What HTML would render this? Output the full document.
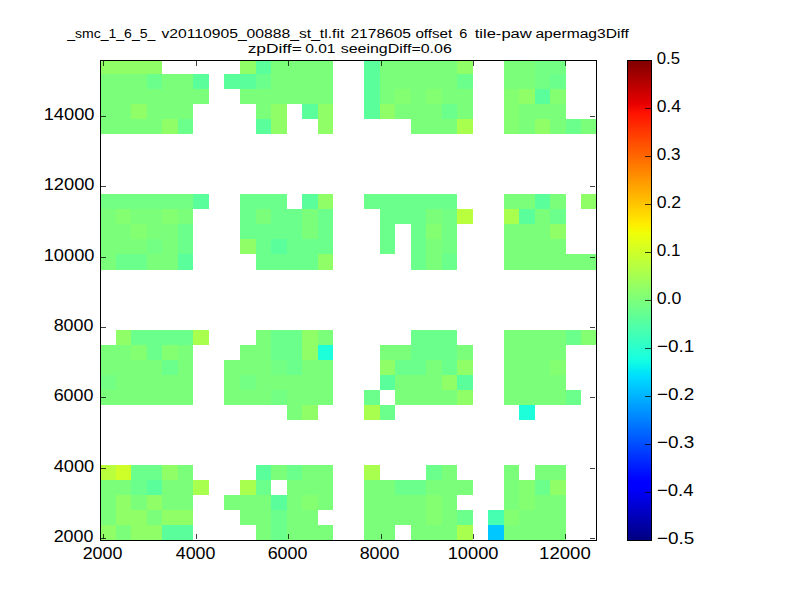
<!DOCTYPE html>
<html><head><meta charset="utf-8"><style>
html,body{margin:0;padding:0;background:#fff;}
body{width:800px;height:600px;overflow:hidden;}
svg{display:block;}
</style></head><body>
<svg width="800" height="600" viewBox="0 0 800 600">
<defs><linearGradient id="jet" x1="0" y1="0" x2="0" y2="1"><stop offset="0.00" stop-color="#800000"/><stop offset="0.01" stop-color="#8b0000"/><stop offset="0.02" stop-color="#970000"/><stop offset="0.03" stop-color="#a20000"/><stop offset="0.04" stop-color="#ae0000"/><stop offset="0.05" stop-color="#b90000"/><stop offset="0.06" stop-color="#c50000"/><stop offset="0.07" stop-color="#d10000"/><stop offset="0.08" stop-color="#dc0000"/><stop offset="0.09" stop-color="#e80000"/><stop offset="0.10" stop-color="#f30900"/><stop offset="0.11" stop-color="#ff1300"/><stop offset="0.12" stop-color="#ff1c00"/><stop offset="0.13" stop-color="#ff2600"/><stop offset="0.14" stop-color="#ff2f00"/><stop offset="0.15" stop-color="#ff3900"/><stop offset="0.16" stop-color="#ff4200"/><stop offset="0.17" stop-color="#ff4c00"/><stop offset="0.18" stop-color="#ff5500"/><stop offset="0.19" stop-color="#ff5e00"/><stop offset="0.20" stop-color="#ff6800"/><stop offset="0.21" stop-color="#ff7100"/><stop offset="0.22" stop-color="#ff7b00"/><stop offset="0.23" stop-color="#ff8400"/><stop offset="0.24" stop-color="#ff8e00"/><stop offset="0.25" stop-color="#ff9700"/><stop offset="0.26" stop-color="#ffa100"/><stop offset="0.27" stop-color="#ffaa00"/><stop offset="0.28" stop-color="#ffb300"/><stop offset="0.29" stop-color="#ffbd00"/><stop offset="0.30" stop-color="#ffc600"/><stop offset="0.31" stop-color="#ffd000"/><stop offset="0.32" stop-color="#ffd900"/><stop offset="0.33" stop-color="#ffe300"/><stop offset="0.34" stop-color="#ffec00"/><stop offset="0.35" stop-color="#f7f600"/><stop offset="0.36" stop-color="#efff08"/><stop offset="0.37" stop-color="#e6ff10"/><stop offset="0.38" stop-color="#deff19"/><stop offset="0.39" stop-color="#d6ff21"/><stop offset="0.40" stop-color="#ceff29"/><stop offset="0.41" stop-color="#c5ff31"/><stop offset="0.42" stop-color="#bdff3a"/><stop offset="0.43" stop-color="#b5ff42"/><stop offset="0.44" stop-color="#adff4a"/><stop offset="0.45" stop-color="#a5ff52"/><stop offset="0.46" stop-color="#9cff5a"/><stop offset="0.47" stop-color="#94ff63"/><stop offset="0.48" stop-color="#8cff6b"/><stop offset="0.49" stop-color="#84ff73"/><stop offset="0.50" stop-color="#7bff7b"/><stop offset="0.51" stop-color="#73ff84"/><stop offset="0.52" stop-color="#6bff8c"/><stop offset="0.53" stop-color="#63ff94"/><stop offset="0.54" stop-color="#5aff9c"/><stop offset="0.55" stop-color="#52ffa5"/><stop offset="0.56" stop-color="#4affad"/><stop offset="0.57" stop-color="#42ffb5"/><stop offset="0.58" stop-color="#3affbd"/><stop offset="0.59" stop-color="#31ffc5"/><stop offset="0.60" stop-color="#29ffce"/><stop offset="0.61" stop-color="#21ffd6"/><stop offset="0.62" stop-color="#19ffde"/><stop offset="0.63" stop-color="#10fae6"/><stop offset="0.64" stop-color="#08f0ef"/><stop offset="0.65" stop-color="#00e5f7"/><stop offset="0.66" stop-color="#00dbff"/><stop offset="0.67" stop-color="#00d1ff"/><stop offset="0.68" stop-color="#00c7ff"/><stop offset="0.69" stop-color="#00bdff"/><stop offset="0.70" stop-color="#00b3ff"/><stop offset="0.71" stop-color="#00a8ff"/><stop offset="0.72" stop-color="#009eff"/><stop offset="0.73" stop-color="#0094ff"/><stop offset="0.74" stop-color="#008aff"/><stop offset="0.75" stop-color="#0080ff"/><stop offset="0.76" stop-color="#0075ff"/><stop offset="0.77" stop-color="#006bff"/><stop offset="0.78" stop-color="#0061ff"/><stop offset="0.79" stop-color="#0057ff"/><stop offset="0.80" stop-color="#004cff"/><stop offset="0.81" stop-color="#0042ff"/><stop offset="0.82" stop-color="#0038ff"/><stop offset="0.83" stop-color="#002eff"/><stop offset="0.84" stop-color="#0024ff"/><stop offset="0.85" stop-color="#001aff"/><stop offset="0.86" stop-color="#000fff"/><stop offset="0.87" stop-color="#0005ff"/><stop offset="0.88" stop-color="#0000ff"/><stop offset="0.89" stop-color="#0000ff"/><stop offset="0.90" stop-color="#0000f3"/><stop offset="0.91" stop-color="#0000e8"/><stop offset="0.92" stop-color="#0000dc"/><stop offset="0.93" stop-color="#0000d1"/><stop offset="0.94" stop-color="#0000c5"/><stop offset="0.95" stop-color="#0000b9"/><stop offset="0.96" stop-color="#0000ae"/><stop offset="0.97" stop-color="#0000a2"/><stop offset="0.98" stop-color="#000097"/><stop offset="0.99" stop-color="#00008b"/><stop offset="1.00" stop-color="#000080"/></linearGradient></defs>
<rect x="0" y="0" width="800" height="600" fill="#fff"/>
<g shape-rendering="crispEdges"><rect x="100" y="60" width="16" height="14" fill="#90ff67"/><rect x="116" y="60" width="15" height="14" fill="#90ff67"/><rect x="131" y="60" width="16" height="14" fill="#90ff67"/><rect x="147" y="60" width="15" height="14" fill="#90ff67"/><rect x="240" y="60" width="16" height="14" fill="#90ff67"/><rect x="256" y="60" width="15" height="14" fill="#5aff9c"/><rect x="271" y="60" width="16" height="14" fill="#7bff7b"/><rect x="287" y="60" width="15" height="14" fill="#7bff7b"/><rect x="302" y="60" width="16" height="14" fill="#7bff7b"/><rect x="318" y="60" width="15" height="14" fill="#7bff7b"/><rect x="364" y="60" width="16" height="14" fill="#5aff9c"/><rect x="380" y="60" width="15" height="14" fill="#7bff7b"/><rect x="395" y="60" width="16" height="14" fill="#7bff7b"/><rect x="411" y="60" width="15" height="14" fill="#7bff7b"/><rect x="426" y="60" width="16" height="14" fill="#7bff7b"/><rect x="442" y="60" width="15" height="14" fill="#7bff7b"/><rect x="457" y="60" width="16" height="14" fill="#90ff67"/><rect x="504" y="60" width="15" height="14" fill="#7bff7b"/><rect x="519" y="60" width="16" height="14" fill="#7bff7b"/><rect x="535" y="60" width="15" height="14" fill="#73ff84"/><rect x="550" y="60" width="16" height="14" fill="#73ff84"/><rect x="100" y="74" width="16" height="15" fill="#7bff7b"/><rect x="116" y="74" width="15" height="15" fill="#7bff7b"/><rect x="131" y="74" width="16" height="15" fill="#7bff7b"/><rect x="147" y="74" width="15" height="15" fill="#6bff8c"/><rect x="162" y="74" width="16" height="15" fill="#7bff7b"/><rect x="178" y="74" width="15" height="15" fill="#7bff7b"/><rect x="193" y="74" width="16" height="15" fill="#5aff9c"/><rect x="224" y="74" width="16" height="15" fill="#5aff9c"/><rect x="240" y="74" width="16" height="15" fill="#5aff9c"/><rect x="256" y="74" width="15" height="15" fill="#6bff8c"/><rect x="271" y="74" width="16" height="15" fill="#7bff7b"/><rect x="287" y="74" width="15" height="15" fill="#7bff7b"/><rect x="302" y="74" width="16" height="15" fill="#7bff7b"/><rect x="318" y="74" width="15" height="15" fill="#7bff7b"/><rect x="364" y="74" width="16" height="15" fill="#5aff9c"/><rect x="380" y="74" width="15" height="15" fill="#7bff7b"/><rect x="395" y="74" width="16" height="15" fill="#7bff7b"/><rect x="411" y="74" width="15" height="15" fill="#7bff7b"/><rect x="426" y="74" width="16" height="15" fill="#7bff7b"/><rect x="442" y="74" width="15" height="15" fill="#7bff7b"/><rect x="457" y="74" width="16" height="15" fill="#6bff8c"/><rect x="504" y="74" width="15" height="15" fill="#7bff7b"/><rect x="519" y="74" width="16" height="15" fill="#7bff7b"/><rect x="535" y="74" width="15" height="15" fill="#73ff84"/><rect x="550" y="74" width="16" height="15" fill="#6bff8c"/><rect x="100" y="89" width="16" height="15" fill="#7bff7b"/><rect x="116" y="89" width="15" height="15" fill="#7bff7b"/><rect x="131" y="89" width="16" height="15" fill="#7bff7b"/><rect x="147" y="89" width="15" height="15" fill="#7bff7b"/><rect x="162" y="89" width="16" height="15" fill="#7bff7b"/><rect x="178" y="89" width="15" height="15" fill="#7bff7b"/><rect x="193" y="89" width="16" height="15" fill="#7bff7b"/><rect x="240" y="89" width="16" height="15" fill="#7bff7b"/><rect x="256" y="89" width="15" height="15" fill="#7bff7b"/><rect x="271" y="89" width="16" height="15" fill="#7bff7b"/><rect x="287" y="89" width="15" height="15" fill="#7bff7b"/><rect x="302" y="89" width="16" height="15" fill="#7bff7b"/><rect x="318" y="89" width="15" height="15" fill="#7bff7b"/><rect x="364" y="89" width="16" height="15" fill="#5aff9c"/><rect x="380" y="89" width="15" height="15" fill="#7bff7b"/><rect x="395" y="89" width="16" height="15" fill="#85ff72"/><rect x="411" y="89" width="15" height="15" fill="#7bff7b"/><rect x="426" y="89" width="16" height="15" fill="#85ff72"/><rect x="442" y="89" width="15" height="15" fill="#7bff7b"/><rect x="457" y="89" width="16" height="15" fill="#7bff7b"/><rect x="504" y="89" width="15" height="15" fill="#85ff72"/><rect x="519" y="89" width="16" height="15" fill="#90ff67"/><rect x="535" y="89" width="15" height="15" fill="#5aff9c"/><rect x="550" y="89" width="16" height="15" fill="#85ff72"/><rect x="100" y="104" width="16" height="15" fill="#7bff7b"/><rect x="116" y="104" width="15" height="15" fill="#7bff7b"/><rect x="131" y="104" width="16" height="15" fill="#90ff67"/><rect x="147" y="104" width="15" height="15" fill="#7bff7b"/><rect x="162" y="104" width="16" height="15" fill="#7bff7b"/><rect x="178" y="104" width="15" height="15" fill="#7bff7b"/><rect x="256" y="104" width="15" height="15" fill="#7bff7b"/><rect x="271" y="104" width="16" height="15" fill="#90ff67"/><rect x="302" y="104" width="16" height="15" fill="#5aff9c"/><rect x="318" y="104" width="15" height="15" fill="#90ff67"/><rect x="364" y="104" width="16" height="15" fill="#5aff9c"/><rect x="380" y="104" width="15" height="15" fill="#90ff67"/><rect x="395" y="104" width="16" height="15" fill="#7bff7b"/><rect x="411" y="104" width="15" height="15" fill="#7bff7b"/><rect x="426" y="104" width="16" height="15" fill="#7bff7b"/><rect x="442" y="104" width="15" height="15" fill="#6bff8c"/><rect x="457" y="104" width="16" height="15" fill="#7bff7b"/><rect x="504" y="104" width="15" height="15" fill="#85ff72"/><rect x="519" y="104" width="16" height="15" fill="#7bff7b"/><rect x="535" y="104" width="15" height="15" fill="#7bff7b"/><rect x="550" y="104" width="16" height="15" fill="#7bff7b"/><rect x="100" y="119" width="16" height="15" fill="#7bff7b"/><rect x="116" y="119" width="15" height="15" fill="#7bff7b"/><rect x="131" y="119" width="16" height="15" fill="#7bff7b"/><rect x="147" y="119" width="15" height="15" fill="#7bff7b"/><rect x="162" y="119" width="16" height="15" fill="#90ff67"/><rect x="178" y="119" width="15" height="15" fill="#6bff8c"/><rect x="256" y="119" width="15" height="15" fill="#5aff9c"/><rect x="271" y="119" width="16" height="15" fill="#90ff67"/><rect x="318" y="119" width="15" height="15" fill="#90ff67"/><rect x="411" y="119" width="15" height="15" fill="#7bff7b"/><rect x="426" y="119" width="16" height="15" fill="#7bff7b"/><rect x="442" y="119" width="15" height="15" fill="#7bff7b"/><rect x="457" y="119" width="16" height="15" fill="#a9ff4e"/><rect x="504" y="119" width="15" height="15" fill="#85ff72"/><rect x="519" y="119" width="16" height="15" fill="#7bff7b"/><rect x="535" y="119" width="15" height="15" fill="#90ff67"/><rect x="550" y="119" width="16" height="15" fill="#7bff7b"/><rect x="566" y="119" width="15" height="15" fill="#6bff8c"/><rect x="581" y="119" width="15" height="15" fill="#7bff7b"/><rect x="100" y="194" width="16" height="15" fill="#73ff84"/><rect x="116" y="194" width="15" height="15" fill="#73ff84"/><rect x="131" y="194" width="16" height="15" fill="#73ff84"/><rect x="147" y="194" width="15" height="15" fill="#73ff84"/><rect x="162" y="194" width="16" height="15" fill="#73ff84"/><rect x="178" y="194" width="15" height="15" fill="#73ff84"/><rect x="193" y="194" width="16" height="15" fill="#5aff9c"/><rect x="240" y="194" width="16" height="15" fill="#6bff8c"/><rect x="256" y="194" width="15" height="15" fill="#6bff8c"/><rect x="271" y="194" width="16" height="15" fill="#6bff8c"/><rect x="302" y="194" width="16" height="15" fill="#5aff9c"/><rect x="318" y="194" width="15" height="15" fill="#90ff67"/><rect x="364" y="194" width="16" height="15" fill="#6bff8c"/><rect x="380" y="194" width="15" height="15" fill="#6bff8c"/><rect x="395" y="194" width="16" height="15" fill="#6bff8c"/><rect x="411" y="194" width="15" height="15" fill="#6bff8c"/><rect x="426" y="194" width="16" height="15" fill="#6bff8c"/><rect x="442" y="194" width="15" height="15" fill="#6bff8c"/><rect x="504" y="194" width="15" height="15" fill="#7bff7b"/><rect x="519" y="194" width="16" height="15" fill="#7bff7b"/><rect x="535" y="194" width="15" height="15" fill="#5aff9c"/><rect x="550" y="194" width="16" height="15" fill="#7bff7b"/><rect x="581" y="194" width="15" height="15" fill="#90ff67"/><rect x="100" y="209" width="16" height="15" fill="#7bff7b"/><rect x="116" y="209" width="15" height="15" fill="#85ff72"/><rect x="131" y="209" width="16" height="15" fill="#7bff7b"/><rect x="147" y="209" width="15" height="15" fill="#7bff7b"/><rect x="162" y="209" width="16" height="15" fill="#85ff72"/><rect x="178" y="209" width="15" height="15" fill="#7bff7b"/><rect x="240" y="209" width="16" height="15" fill="#6bff8c"/><rect x="256" y="209" width="15" height="15" fill="#7bff7b"/><rect x="271" y="209" width="16" height="15" fill="#6bff8c"/><rect x="287" y="209" width="15" height="15" fill="#6bff8c"/><rect x="302" y="209" width="16" height="15" fill="#7bff7b"/><rect x="318" y="209" width="15" height="15" fill="#6bff8c"/><rect x="380" y="209" width="15" height="15" fill="#6bff8c"/><rect x="395" y="209" width="16" height="15" fill="#6bff8c"/><rect x="411" y="209" width="15" height="15" fill="#6bff8c"/><rect x="426" y="209" width="16" height="15" fill="#7bff7b"/><rect x="442" y="209" width="15" height="15" fill="#73ff84"/><rect x="457" y="209" width="16" height="15" fill="#b9ff3e"/><rect x="504" y="209" width="15" height="15" fill="#a9ff4e"/><rect x="519" y="209" width="16" height="15" fill="#5aff9c"/><rect x="535" y="209" width="15" height="15" fill="#7bff7b"/><rect x="550" y="209" width="16" height="15" fill="#6bff8c"/><rect x="100" y="224" width="16" height="15" fill="#7bff7b"/><rect x="116" y="224" width="15" height="15" fill="#7bff7b"/><rect x="131" y="224" width="16" height="15" fill="#85ff72"/><rect x="147" y="224" width="15" height="15" fill="#7bff7b"/><rect x="162" y="224" width="16" height="15" fill="#7bff7b"/><rect x="178" y="224" width="15" height="15" fill="#6bff8c"/><rect x="240" y="224" width="16" height="15" fill="#6bff8c"/><rect x="256" y="224" width="15" height="15" fill="#6bff8c"/><rect x="271" y="224" width="16" height="15" fill="#6bff8c"/><rect x="287" y="224" width="15" height="15" fill="#6bff8c"/><rect x="302" y="224" width="16" height="15" fill="#7bff7b"/><rect x="318" y="224" width="15" height="15" fill="#6bff8c"/><rect x="380" y="224" width="15" height="15" fill="#6bff8c"/><rect x="411" y="224" width="15" height="15" fill="#6bff8c"/><rect x="426" y="224" width="16" height="15" fill="#85ff72"/><rect x="442" y="224" width="15" height="15" fill="#73ff84"/><rect x="504" y="224" width="15" height="15" fill="#7bff7b"/><rect x="519" y="224" width="16" height="15" fill="#7bff7b"/><rect x="535" y="224" width="15" height="15" fill="#7bff7b"/><rect x="550" y="224" width="16" height="15" fill="#90ff67"/><rect x="100" y="239" width="16" height="15" fill="#7bff7b"/><rect x="116" y="239" width="15" height="15" fill="#7bff7b"/><rect x="131" y="239" width="16" height="15" fill="#7bff7b"/><rect x="147" y="239" width="15" height="15" fill="#73ff84"/><rect x="162" y="239" width="16" height="15" fill="#7bff7b"/><rect x="178" y="239" width="15" height="15" fill="#6bff8c"/><rect x="240" y="239" width="16" height="15" fill="#90ff67"/><rect x="256" y="239" width="15" height="15" fill="#6bff8c"/><rect x="271" y="239" width="16" height="15" fill="#5aff9c"/><rect x="287" y="239" width="15" height="15" fill="#6bff8c"/><rect x="302" y="239" width="16" height="15" fill="#6bff8c"/><rect x="318" y="239" width="15" height="15" fill="#6bff8c"/><rect x="380" y="239" width="15" height="15" fill="#6bff8c"/><rect x="411" y="239" width="15" height="15" fill="#6bff8c"/><rect x="426" y="239" width="16" height="15" fill="#7bff7b"/><rect x="442" y="239" width="15" height="15" fill="#73ff84"/><rect x="504" y="239" width="15" height="15" fill="#7bff7b"/><rect x="519" y="239" width="16" height="15" fill="#7bff7b"/><rect x="535" y="239" width="15" height="15" fill="#7bff7b"/><rect x="550" y="239" width="16" height="15" fill="#7bff7b"/><rect x="100" y="254" width="16" height="16" fill="#7bff7b"/><rect x="116" y="254" width="15" height="16" fill="#6bff8c"/><rect x="131" y="254" width="16" height="16" fill="#6bff8c"/><rect x="147" y="254" width="15" height="16" fill="#7bff7b"/><rect x="162" y="254" width="16" height="16" fill="#7bff7b"/><rect x="178" y="254" width="15" height="16" fill="#5aff9c"/><rect x="256" y="254" width="15" height="16" fill="#6bff8c"/><rect x="271" y="254" width="16" height="16" fill="#6bff8c"/><rect x="287" y="254" width="15" height="16" fill="#6bff8c"/><rect x="302" y="254" width="16" height="16" fill="#6bff8c"/><rect x="318" y="254" width="15" height="16" fill="#90ff67"/><rect x="411" y="254" width="15" height="16" fill="#6bff8c"/><rect x="426" y="254" width="16" height="16" fill="#7bff7b"/><rect x="442" y="254" width="15" height="16" fill="#6bff8c"/><rect x="504" y="254" width="15" height="16" fill="#7bff7b"/><rect x="519" y="254" width="16" height="16" fill="#7bff7b"/><rect x="535" y="254" width="15" height="16" fill="#7bff7b"/><rect x="550" y="254" width="16" height="16" fill="#7bff7b"/><rect x="566" y="254" width="15" height="16" fill="#7bff7b"/><rect x="581" y="254" width="15" height="16" fill="#7bff7b"/><rect x="116" y="330" width="15" height="15" fill="#90ff67"/><rect x="131" y="330" width="16" height="15" fill="#6bff8c"/><rect x="147" y="330" width="15" height="15" fill="#6bff8c"/><rect x="162" y="330" width="16" height="15" fill="#6bff8c"/><rect x="178" y="330" width="15" height="15" fill="#6bff8c"/><rect x="193" y="330" width="16" height="15" fill="#a9ff4e"/><rect x="256" y="330" width="15" height="15" fill="#7bff7b"/><rect x="271" y="330" width="16" height="15" fill="#6bff8c"/><rect x="287" y="330" width="15" height="15" fill="#6bff8c"/><rect x="302" y="330" width="16" height="15" fill="#90ff67"/><rect x="318" y="330" width="15" height="15" fill="#7bff7b"/><rect x="411" y="330" width="15" height="15" fill="#6bff8c"/><rect x="426" y="330" width="16" height="15" fill="#6bff8c"/><rect x="442" y="330" width="15" height="15" fill="#6bff8c"/><rect x="504" y="330" width="15" height="15" fill="#7bff7b"/><rect x="519" y="330" width="16" height="15" fill="#7bff7b"/><rect x="535" y="330" width="15" height="15" fill="#7bff7b"/><rect x="550" y="330" width="16" height="15" fill="#7bff7b"/><rect x="566" y="330" width="15" height="15" fill="#6bff8c"/><rect x="581" y="330" width="15" height="15" fill="#85ff72"/><rect x="100" y="345" width="16" height="15" fill="#7bff7b"/><rect x="116" y="345" width="15" height="15" fill="#7bff7b"/><rect x="131" y="345" width="16" height="15" fill="#85ff72"/><rect x="147" y="345" width="15" height="15" fill="#6bff8c"/><rect x="162" y="345" width="16" height="15" fill="#85ff72"/><rect x="178" y="345" width="15" height="15" fill="#7bff7b"/><rect x="240" y="345" width="16" height="15" fill="#7bff7b"/><rect x="256" y="345" width="15" height="15" fill="#7bff7b"/><rect x="271" y="345" width="16" height="15" fill="#6bff8c"/><rect x="287" y="345" width="15" height="15" fill="#6bff8c"/><rect x="302" y="345" width="16" height="15" fill="#90ff67"/><rect x="318" y="345" width="15" height="15" fill="#1dffda"/><rect x="380" y="345" width="15" height="15" fill="#7bff7b"/><rect x="395" y="345" width="16" height="15" fill="#7bff7b"/><rect x="411" y="345" width="15" height="15" fill="#6bff8c"/><rect x="426" y="345" width="16" height="15" fill="#6bff8c"/><rect x="442" y="345" width="15" height="15" fill="#6bff8c"/><rect x="457" y="345" width="16" height="15" fill="#7bff7b"/><rect x="504" y="345" width="15" height="15" fill="#7bff7b"/><rect x="519" y="345" width="16" height="15" fill="#7bff7b"/><rect x="535" y="345" width="15" height="15" fill="#7bff7b"/><rect x="550" y="345" width="16" height="15" fill="#7bff7b"/><rect x="100" y="360" width="16" height="15" fill="#7bff7b"/><rect x="116" y="360" width="15" height="15" fill="#7bff7b"/><rect x="131" y="360" width="16" height="15" fill="#7bff7b"/><rect x="147" y="360" width="15" height="15" fill="#7bff7b"/><rect x="162" y="360" width="16" height="15" fill="#6bff8c"/><rect x="178" y="360" width="15" height="15" fill="#7bff7b"/><rect x="224" y="360" width="16" height="15" fill="#7bff7b"/><rect x="240" y="360" width="16" height="15" fill="#7bff7b"/><rect x="256" y="360" width="15" height="15" fill="#7bff7b"/><rect x="271" y="360" width="16" height="15" fill="#73ff84"/><rect x="287" y="360" width="15" height="15" fill="#6bff8c"/><rect x="302" y="360" width="16" height="15" fill="#7bff7b"/><rect x="318" y="360" width="15" height="15" fill="#7bff7b"/><rect x="380" y="360" width="15" height="15" fill="#90ff67"/><rect x="395" y="360" width="16" height="15" fill="#6bff8c"/><rect x="411" y="360" width="15" height="15" fill="#6bff8c"/><rect x="426" y="360" width="16" height="15" fill="#7bff7b"/><rect x="442" y="360" width="15" height="15" fill="#6bff8c"/><rect x="457" y="360" width="16" height="15" fill="#90ff67"/><rect x="504" y="360" width="15" height="15" fill="#7bff7b"/><rect x="519" y="360" width="16" height="15" fill="#7bff7b"/><rect x="535" y="360" width="15" height="15" fill="#7bff7b"/><rect x="550" y="360" width="16" height="15" fill="#85ff72"/><rect x="100" y="375" width="16" height="15" fill="#73ff84"/><rect x="116" y="375" width="15" height="15" fill="#7bff7b"/><rect x="131" y="375" width="16" height="15" fill="#7bff7b"/><rect x="147" y="375" width="15" height="15" fill="#7bff7b"/><rect x="162" y="375" width="16" height="15" fill="#7bff7b"/><rect x="178" y="375" width="15" height="15" fill="#7bff7b"/><rect x="224" y="375" width="16" height="15" fill="#7bff7b"/><rect x="240" y="375" width="16" height="15" fill="#73ff84"/><rect x="256" y="375" width="15" height="15" fill="#7bff7b"/><rect x="271" y="375" width="16" height="15" fill="#7bff7b"/><rect x="287" y="375" width="15" height="15" fill="#7bff7b"/><rect x="302" y="375" width="16" height="15" fill="#7bff7b"/><rect x="318" y="375" width="15" height="15" fill="#7bff7b"/><rect x="380" y="375" width="15" height="15" fill="#5aff9c"/><rect x="395" y="375" width="16" height="15" fill="#7bff7b"/><rect x="411" y="375" width="15" height="15" fill="#7bff7b"/><rect x="426" y="375" width="16" height="15" fill="#7bff7b"/><rect x="442" y="375" width="15" height="15" fill="#90ff67"/><rect x="457" y="375" width="16" height="15" fill="#5aff9c"/><rect x="504" y="375" width="15" height="15" fill="#7bff7b"/><rect x="519" y="375" width="16" height="15" fill="#7bff7b"/><rect x="535" y="375" width="15" height="15" fill="#7bff7b"/><rect x="550" y="375" width="16" height="15" fill="#7bff7b"/><rect x="100" y="390" width="16" height="15" fill="#7bff7b"/><rect x="116" y="390" width="15" height="15" fill="#7bff7b"/><rect x="131" y="390" width="16" height="15" fill="#7bff7b"/><rect x="147" y="390" width="15" height="15" fill="#7bff7b"/><rect x="162" y="390" width="16" height="15" fill="#7bff7b"/><rect x="178" y="390" width="15" height="15" fill="#7bff7b"/><rect x="224" y="390" width="16" height="15" fill="#7bff7b"/><rect x="240" y="390" width="16" height="15" fill="#7bff7b"/><rect x="256" y="390" width="15" height="15" fill="#7bff7b"/><rect x="271" y="390" width="16" height="15" fill="#73ff84"/><rect x="287" y="390" width="15" height="15" fill="#7bff7b"/><rect x="302" y="390" width="16" height="15" fill="#7bff7b"/><rect x="318" y="390" width="15" height="15" fill="#7bff7b"/><rect x="364" y="390" width="16" height="15" fill="#6bff8c"/><rect x="395" y="390" width="16" height="15" fill="#7bff7b"/><rect x="411" y="390" width="15" height="15" fill="#7bff7b"/><rect x="426" y="390" width="16" height="15" fill="#7bff7b"/><rect x="442" y="390" width="15" height="15" fill="#7bff7b"/><rect x="457" y="390" width="16" height="15" fill="#90ff67"/><rect x="504" y="390" width="15" height="15" fill="#7bff7b"/><rect x="519" y="390" width="16" height="15" fill="#7bff7b"/><rect x="535" y="390" width="15" height="15" fill="#7bff7b"/><rect x="550" y="390" width="16" height="15" fill="#7bff7b"/><rect x="566" y="390" width="15" height="15" fill="#6bff8c"/><rect x="287" y="405" width="15" height="15" fill="#7bff7b"/><rect x="302" y="405" width="16" height="15" fill="#90ff67"/><rect x="364" y="405" width="16" height="15" fill="#a9ff4e"/><rect x="380" y="405" width="15" height="15" fill="#6bff8c"/><rect x="519" y="405" width="16" height="15" fill="#1dffda"/><rect x="100" y="465" width="16" height="15" fill="#b9ff3e"/><rect x="116" y="465" width="15" height="15" fill="#ceff29"/><rect x="131" y="465" width="16" height="15" fill="#6bff8c"/><rect x="147" y="465" width="15" height="15" fill="#6bff8c"/><rect x="162" y="465" width="16" height="15" fill="#90ff67"/><rect x="178" y="465" width="15" height="15" fill="#7bff7b"/><rect x="256" y="465" width="15" height="15" fill="#5aff9c"/><rect x="271" y="465" width="16" height="15" fill="#7bff7b"/><rect x="287" y="465" width="15" height="15" fill="#6bff8c"/><rect x="302" y="465" width="16" height="15" fill="#7bff7b"/><rect x="318" y="465" width="15" height="15" fill="#7bff7b"/><rect x="364" y="465" width="16" height="15" fill="#a9ff4e"/><rect x="426" y="465" width="16" height="15" fill="#6bff8c"/><rect x="442" y="465" width="15" height="15" fill="#7bff7b"/><rect x="504" y="465" width="15" height="15" fill="#7bff7b"/><rect x="535" y="465" width="15" height="15" fill="#7bff7b"/><rect x="550" y="465" width="16" height="15" fill="#7bff7b"/><rect x="100" y="480" width="16" height="15" fill="#7bff7b"/><rect x="116" y="480" width="15" height="15" fill="#7bff7b"/><rect x="131" y="480" width="16" height="15" fill="#6bff8c"/><rect x="147" y="480" width="15" height="15" fill="#5aff9c"/><rect x="162" y="480" width="16" height="15" fill="#7bff7b"/><rect x="178" y="480" width="15" height="15" fill="#7bff7b"/><rect x="193" y="480" width="16" height="15" fill="#a9ff4e"/><rect x="240" y="480" width="16" height="15" fill="#a9ff4e"/><rect x="256" y="480" width="15" height="15" fill="#6bff8c"/><rect x="287" y="480" width="15" height="15" fill="#7bff7b"/><rect x="302" y="480" width="16" height="15" fill="#7bff7b"/><rect x="318" y="480" width="15" height="15" fill="#7bff7b"/><rect x="364" y="480" width="16" height="15" fill="#7bff7b"/><rect x="380" y="480" width="15" height="15" fill="#7bff7b"/><rect x="395" y="480" width="16" height="15" fill="#6bff8c"/><rect x="411" y="480" width="15" height="15" fill="#6bff8c"/><rect x="426" y="480" width="16" height="15" fill="#7bff7b"/><rect x="442" y="480" width="15" height="15" fill="#7bff7b"/><rect x="457" y="480" width="16" height="15" fill="#7bff7b"/><rect x="504" y="480" width="15" height="15" fill="#7bff7b"/><rect x="519" y="480" width="16" height="15" fill="#85ff72"/><rect x="535" y="480" width="15" height="15" fill="#6bff8c"/><rect x="550" y="480" width="16" height="15" fill="#90ff67"/><rect x="100" y="495" width="16" height="15" fill="#7bff7b"/><rect x="116" y="495" width="15" height="15" fill="#90ff67"/><rect x="131" y="495" width="16" height="15" fill="#7bff7b"/><rect x="147" y="495" width="15" height="15" fill="#90ff67"/><rect x="162" y="495" width="16" height="15" fill="#7bff7b"/><rect x="178" y="495" width="15" height="15" fill="#7bff7b"/><rect x="224" y="495" width="16" height="15" fill="#7bff7b"/><rect x="240" y="495" width="16" height="15" fill="#7bff7b"/><rect x="256" y="495" width="15" height="15" fill="#7bff7b"/><rect x="271" y="495" width="16" height="15" fill="#5aff9c"/><rect x="287" y="495" width="15" height="15" fill="#7bff7b"/><rect x="302" y="495" width="16" height="15" fill="#85ff72"/><rect x="318" y="495" width="15" height="15" fill="#7bff7b"/><rect x="364" y="495" width="16" height="15" fill="#7bff7b"/><rect x="380" y="495" width="15" height="15" fill="#7bff7b"/><rect x="395" y="495" width="16" height="15" fill="#7bff7b"/><rect x="411" y="495" width="15" height="15" fill="#7bff7b"/><rect x="426" y="495" width="16" height="15" fill="#85ff72"/><rect x="442" y="495" width="15" height="15" fill="#7bff7b"/><rect x="504" y="495" width="15" height="15" fill="#7bff7b"/><rect x="519" y="495" width="16" height="15" fill="#85ff72"/><rect x="535" y="495" width="15" height="15" fill="#7bff7b"/><rect x="550" y="495" width="16" height="15" fill="#7bff7b"/><rect x="100" y="510" width="16" height="15" fill="#7bff7b"/><rect x="116" y="510" width="15" height="15" fill="#90ff67"/><rect x="131" y="510" width="16" height="15" fill="#90ff67"/><rect x="147" y="510" width="15" height="15" fill="#7bff7b"/><rect x="162" y="510" width="16" height="15" fill="#90ff67"/><rect x="178" y="510" width="15" height="15" fill="#90ff67"/><rect x="240" y="510" width="16" height="15" fill="#7bff7b"/><rect x="256" y="510" width="15" height="15" fill="#7bff7b"/><rect x="271" y="510" width="16" height="15" fill="#6bff8c"/><rect x="287" y="510" width="15" height="15" fill="#7bff7b"/><rect x="302" y="510" width="16" height="15" fill="#7bff7b"/><rect x="364" y="510" width="16" height="15" fill="#7bff7b"/><rect x="380" y="510" width="15" height="15" fill="#7bff7b"/><rect x="395" y="510" width="16" height="15" fill="#7bff7b"/><rect x="411" y="510" width="15" height="15" fill="#7bff7b"/><rect x="426" y="510" width="16" height="15" fill="#85ff72"/><rect x="442" y="510" width="15" height="15" fill="#7bff7b"/><rect x="457" y="510" width="16" height="15" fill="#6bff8c"/><rect x="488" y="510" width="16" height="15" fill="#46ffb1"/><rect x="504" y="510" width="15" height="15" fill="#85ff72"/><rect x="519" y="510" width="16" height="15" fill="#7bff7b"/><rect x="535" y="510" width="15" height="15" fill="#7bff7b"/><rect x="550" y="510" width="16" height="15" fill="#7bff7b"/><rect x="100" y="525" width="16" height="15" fill="#90ff67"/><rect x="116" y="525" width="15" height="15" fill="#7bff7b"/><rect x="131" y="525" width="16" height="15" fill="#90ff67"/><rect x="147" y="525" width="15" height="15" fill="#90ff67"/><rect x="162" y="525" width="16" height="15" fill="#5aff9c"/><rect x="178" y="525" width="15" height="15" fill="#5aff9c"/><rect x="256" y="525" width="15" height="15" fill="#7bff7b"/><rect x="271" y="525" width="16" height="15" fill="#6bff8c"/><rect x="287" y="525" width="15" height="15" fill="#7bff7b"/><rect x="302" y="525" width="16" height="15" fill="#7bff7b"/><rect x="318" y="525" width="15" height="15" fill="#7bff7b"/><rect x="364" y="525" width="16" height="15" fill="#7bff7b"/><rect x="380" y="525" width="15" height="15" fill="#7bff7b"/><rect x="411" y="525" width="15" height="15" fill="#7bff7b"/><rect x="426" y="525" width="16" height="15" fill="#7bff7b"/><rect x="442" y="525" width="15" height="15" fill="#7bff7b"/><rect x="457" y="525" width="16" height="15" fill="#a9ff4e"/><rect x="488" y="525" width="16" height="15" fill="#00c7ff"/><rect x="504" y="525" width="15" height="15" fill="#7bff7b"/><rect x="519" y="525" width="16" height="15" fill="#7bff7b"/><rect x="535" y="525" width="15" height="15" fill="#7bff7b"/><rect x="550" y="525" width="16" height="15" fill="#7bff7b"/></g>
<g stroke="#000" stroke-opacity="0.75" stroke-width="1" fill="none" shape-rendering="crispEdges"><path d="M101 116.5H106M595 116.5H590"/><path d="M101 186.5H106M595 186.5H590"/><path d="M101 257.5H106M595 257.5H590"/><path d="M101 327.5H106M595 327.5H590"/><path d="M101 397.5H106M595 397.5H590"/><path d="M101 468.5H106M595 468.5H590"/><path d="M101 538.5H106M595 538.5H590"/><path d="M103.5 539V534M103.5 61V66"/><path d="M196.5 539V534M196.5 61V66"/><path d="M288.5 539V534M288.5 61V66"/><path d="M381.5 539V534M381.5 61V66"/><path d="M473.5 539V534M473.5 61V66"/><path d="M565.5 539V534M565.5 61V66"/></g>
<rect x="100.5" y="60.5" width="496" height="480" fill="none" stroke="#000" stroke-width="1" shape-rendering="crispEdges"/>
<rect x="627.5" y="60.5" width="24" height="480" fill="url(#jet)" stroke="#000" stroke-width="1" shape-rendering="crispEdges"/>
<g stroke="#000" stroke-opacity="0.75" stroke-width="1" fill="none" shape-rendering="crispEdges"><path d="M651 108.5H645"/><path d="M651 156.5H645"/><path d="M651 204.5H645"/><path d="M651 252.5H645"/><path d="M651 300.5H645"/><path d="M651 348.5H645"/><path d="M651 396.5H645"/><path d="M651 444.5H645"/><path d="M651 492.5H645"/></g>
<g fill="#000"><text x="67.20" y="37.6" font-size="12" textLength="88.10" lengthAdjust="spacingAndGlyphs" font-family="Liberation Sans, sans-serif">_smc_1_6_5_</text>
<text x="161.45" y="37.6" font-size="12" textLength="182.85" lengthAdjust="spacingAndGlyphs" font-family="Liberation Sans, sans-serif">v20110905_00888_st_tl.fit</text>
<text x="350.45" y="37.6" font-size="12" textLength="60.60" lengthAdjust="spacingAndGlyphs" font-family="Liberation Sans, sans-serif">2178605</text>
<text x="415.45" y="37.6" font-size="12" textLength="36.85" lengthAdjust="spacingAndGlyphs" font-family="Liberation Sans, sans-serif">offset</text>
<text x="459.20" y="37.6" font-size="12" textLength="8.10" lengthAdjust="spacingAndGlyphs" font-family="Liberation Sans, sans-serif">6</text>
<text x="474.70" y="37.6" font-size="12" textLength="57.10" lengthAdjust="spacingAndGlyphs" font-family="Liberation Sans, sans-serif">tile-paw</text>
<text x="535.45" y="37.6" font-size="12" textLength="93.35" lengthAdjust="spacingAndGlyphs" font-family="Liberation Sans, sans-serif">apermag3Diff</text>
<text x="247.70" y="52.9" font-size="12" textLength="54.10" lengthAdjust="spacingAndGlyphs" font-family="Liberation Sans, sans-serif">zpDiff=</text>
<text x="305.20" y="52.9" font-size="12" textLength="30.35" lengthAdjust="spacingAndGlyphs" font-family="Liberation Sans, sans-serif">0.01</text>
<text x="340.70" y="52.9" font-size="12" textLength="111.10" lengthAdjust="spacingAndGlyphs" font-family="Liberation Sans, sans-serif">seeingDiff=0.06</text>
<text x="43.71" y="120.3" font-size="16.67" textLength="50.82" lengthAdjust="spacingAndGlyphs" font-family="Liberation Sans, sans-serif">14000</text>
<text x="43.71" y="190.3" font-size="16.67" textLength="50.82" lengthAdjust="spacingAndGlyphs" font-family="Liberation Sans, sans-serif">12000</text>
<text x="43.71" y="261.3" font-size="16.67" textLength="50.82" lengthAdjust="spacingAndGlyphs" font-family="Liberation Sans, sans-serif">10000</text>
<text x="53.66" y="331.3" font-size="16.67" textLength="39.80" lengthAdjust="spacingAndGlyphs" font-family="Liberation Sans, sans-serif">8000</text>
<text x="53.66" y="401.3" font-size="16.67" textLength="39.80" lengthAdjust="spacingAndGlyphs" font-family="Liberation Sans, sans-serif">6000</text>
<text x="53.66" y="472.3" font-size="16.67" textLength="40.50" lengthAdjust="spacingAndGlyphs" font-family="Liberation Sans, sans-serif">4000</text>
<text x="53.66" y="542.3" font-size="16.67" textLength="39.80" lengthAdjust="spacingAndGlyphs" font-family="Liberation Sans, sans-serif">2000</text>
<text x="82.66" y="559.2" font-size="16.67" textLength="39.80" lengthAdjust="spacingAndGlyphs" font-family="Liberation Sans, sans-serif">2000</text>
<text x="175.79" y="559.2" font-size="16.67" textLength="39.67" lengthAdjust="spacingAndGlyphs" font-family="Liberation Sans, sans-serif">4000</text>
<text x="267.66" y="559.2" font-size="16.67" textLength="39.80" lengthAdjust="spacingAndGlyphs" font-family="Liberation Sans, sans-serif">6000</text>
<text x="359.66" y="559.2" font-size="16.67" textLength="39.74" lengthAdjust="spacingAndGlyphs" font-family="Liberation Sans, sans-serif">8000</text>
<text x="447.71" y="559.2" font-size="16.67" textLength="50.82" lengthAdjust="spacingAndGlyphs" font-family="Liberation Sans, sans-serif">10000</text>
<text x="539.14" y="559.2" font-size="16.67" textLength="51.64" lengthAdjust="spacingAndGlyphs" font-family="Liberation Sans, sans-serif">12000</text>
<text x="656.66" y="64.3" font-size="17" textLength="23.30" lengthAdjust="spacingAndGlyphs" font-family="Liberation Sans, sans-serif">0.5</text>
<text x="656.66" y="112.3" font-size="17" textLength="24.30" lengthAdjust="spacingAndGlyphs" font-family="Liberation Sans, sans-serif">0.4</text>
<text x="656.66" y="160.3" font-size="17" textLength="23.74" lengthAdjust="spacingAndGlyphs" font-family="Liberation Sans, sans-serif">0.3</text>
<text x="656.66" y="208.3" font-size="17" textLength="24.50" lengthAdjust="spacingAndGlyphs" font-family="Liberation Sans, sans-serif">0.2</text>
<text x="656.66" y="256.3" font-size="17" textLength="23.74" lengthAdjust="spacingAndGlyphs" font-family="Liberation Sans, sans-serif">0.1</text>
<text x="656.66" y="304.3" font-size="17" textLength="24.62" lengthAdjust="spacingAndGlyphs" font-family="Liberation Sans, sans-serif">0.0</text>
<text x="656.90" y="352.3" font-size="17" textLength="37.32" lengthAdjust="spacingAndGlyphs" font-family="Liberation Sans, sans-serif">−0.1</text>
<text x="656.90" y="400.3" font-size="17" textLength="37.32" lengthAdjust="spacingAndGlyphs" font-family="Liberation Sans, sans-serif">−0.2</text>
<text x="656.90" y="448.3" font-size="17" textLength="37.32" lengthAdjust="spacingAndGlyphs" font-family="Liberation Sans, sans-serif">−0.3</text>
<text x="656.90" y="496.3" font-size="17" textLength="36.62" lengthAdjust="spacingAndGlyphs" font-family="Liberation Sans, sans-serif">−0.4</text>
<text x="656.90" y="544.3" font-size="17" textLength="37.32" lengthAdjust="spacingAndGlyphs" font-family="Liberation Sans, sans-serif">−0.5</text></g>
</svg>
</body></html>
